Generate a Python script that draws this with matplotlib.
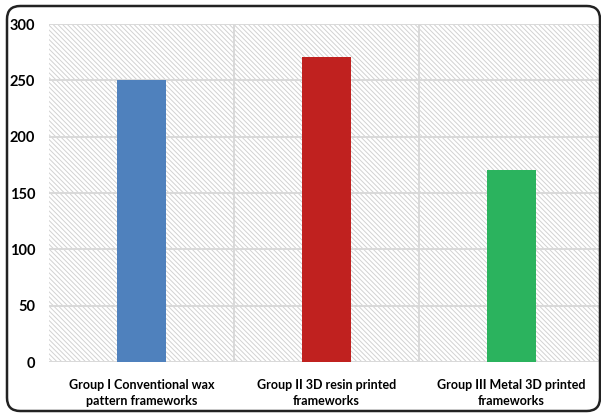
import matplotlib
matplotlib.use("Agg")
import matplotlib.pyplot as plt
from matplotlib.patches import FancyBboxPatch, Rectangle

categories = ["Group I Conventional wax\npattern frameworks",
              "Group II 3D resin printed\nframeworks",
              "Group III Metal 3D printed\nframeworks"]
values = [250, 271, 170]
colors = ["#4f81bd", "#c0211f", "#2bb35e"]
yticks = [0, 50, 100, 150, 200, 250, 300]

W, H = 601, 417
plt.rcParams["font.family"] = ["Lato", "DejaVu Sans"]
plt.rcParams["hatch.linewidth"] = 0.7
plt.rcParams["hatch.color"] = "#d2d2d2"

fig = plt.figure(figsize=(W / 100, H / 100), dpi=100)

# rounded outer frame
frame = FancyBboxPatch((7 / W, 6 / H), 593 / W, 405 / H,
                       boxstyle="round,pad=0,rounding_size=0.022",
                       transform=fig.transFigure, fill=False,
                       edgecolor="#222222", linewidth=1.8,
                       mutation_aspect=W / H)
fig.patches.append(frame)

x0, x1 = 49, 604
y_top, y_bot = 24, 362
ax = fig.add_axes([x0 / W, (H - y_bot) / H, (x1 - x0) / W, (y_bot - y_top) / H])
ax.set_xlim(-0.5, 2.5)
ax.set_ylim(0, 300)
ax.set_facecolor("white")

# hatched plot background
ax.add_patch(Rectangle((0, 0), 1, 1, transform=ax.transAxes, facecolor="white",
                       edgecolor="#d2d2d2", hatch="\\" * 7, linewidth=0, zorder=0))

for y in yticks:
    ax.axhline(y, color="#d9d9d9", linewidth=1.4, zorder=1)
for xb in [0.5, 1.5]:
    ax.axvline(xb, color="#d9d9d9", linewidth=1.4, zorder=1)

ax.bar(range(len(values)), values, width=0.265, color=colors, zorder=2)

for s in ax.spines.values():
    s.set_visible(False)
ax.set_yticks(yticks)
ax.set_yticklabels([str(v) for v in yticks], fontsize=10.5, fontweight="bold")
ax.set_xticks(range(len(categories)))
ax.set_xticklabels(categories, fontsize=9, fontweight="bold", linespacing=1.45)
ax.tick_params(axis="both", length=0, pad=10, colors="black")
ax.tick_params(axis="x", pad=12)

fig.savefig("out.png", dpi=100)
